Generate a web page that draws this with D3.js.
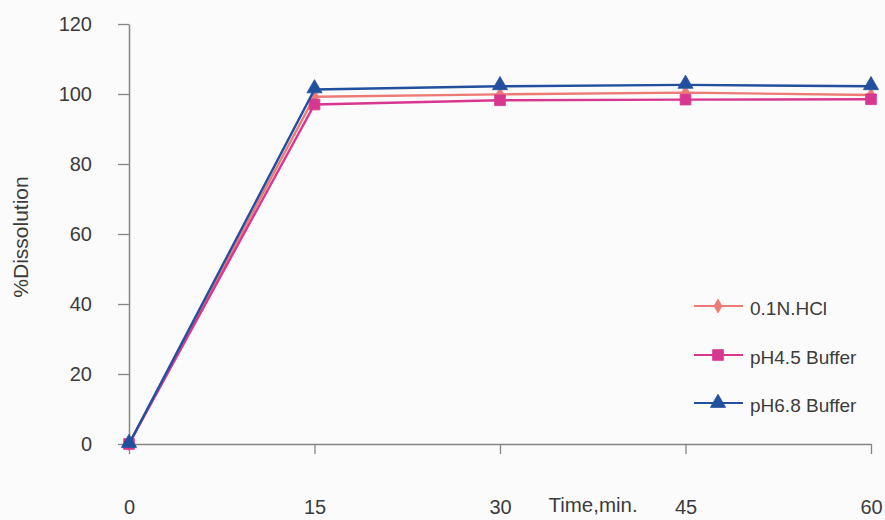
<!DOCTYPE html>
<html>
<head>
<meta charset="utf-8">
<script src="https://cdn.jsdelivr.net/npm/d3@7"></script>
<style>
  html, body { margin: 0; padding: 0; background: #fbfbfc; }
  svg { display: block; }
  text { font-family: "Liberation Sans", Arial, sans-serif; fill: #3c3c3c; }
</style>
</head>
<body>
<svg id="chart" width="885" height="520"></svg>
<script>
// Sampling times (minutes) and tick values
const times = [0, 15, 30, 45, 60];
const xTicks = [0, 15, 30, 45, 60];
const yTicks = [0, 20, 40, 60, 80, 100, 120];

// % dissolved per medium
const hcl   = [0, 99.2, 99.9, 100.4, 99.7];
const ph45  = [0, 97.0, 98.2, 98.4, 98.5];
const ph68  = [0, 101.3, 102.2, 102.6, 102.2];

const seriesNames = ["0.1N.HCl", "pH4.5 Buffer", "pH6.8 Buffer"];
const seriesValues = [hcl, ph45, ph68];
const seriesColors = ["#ee7a76", "#d8378f", "#22509e"];
const seriesShapes = ["diamond", "square", "triangle"];

const svg = d3.select("#chart");
const x = d3.scaleLinear().domain([0, 60]).range([129, 871]);
const y = d3.scaleLinear().domain([0, 120]).range([444, 24]);

// Axes
const axisColor = "#858585";
const yAxis = svg.append("g").attr("transform", "translate(129,0)")
  .call(d3.axisLeft(y).tickValues(yTicks).tickSize(11).tickPadding(26).tickSizeOuter(0));
yAxis.select(".domain").attr("stroke", axisColor).attr("stroke-width", 1.5);
yAxis.selectAll(".tick line").attr("stroke", axisColor).attr("stroke-width", 1.3);
yAxis.selectAll(".tick text").attr("font-size", 20).attr("font-family", null).attr("fill", null);

const xAxis = svg.append("g").attr("transform", "translate(0,444)")
  .call(d3.axisBottom(x).tickValues(xTicks).tickSize(10).tickPadding(0).tickSizeOuter(0));
xAxis.select(".domain").attr("stroke", axisColor).attr("stroke-width", 1.5);
xAxis.selectAll(".tick line").attr("stroke", axisColor).attr("stroke-width", 1.3);
xAxis.selectAll(".tick text").attr("font-size", 20).attr("font-family", null).attr("fill", null)
  .attr("dy", null).attr("y", 70);

// Axis titles
svg.append("text").attr("x", 593).attr("y", 512).attr("text-anchor", "middle")
  .attr("font-size", 20.5).text("Time,min.");
svg.append("text").attr("transform", "translate(28,237) rotate(-90)").attr("text-anchor", "middle")
  .attr("font-size", 21).text("%Dissolution");

// Marker symbols
const symbolFor = {
  diamond: d3.symbol().type(d3.symbolDiamond).size(55),
  square: d3.symbol().type(d3.symbolSquare).size(115),
  triangle: d3.symbol().type(d3.symbolTriangle).size(100)
};

const line = d3.line().x((d, i) => x(times[i])).y(d => y(d));

seriesValues.forEach((vals, s) => {
  const g = svg.append("g");
  g.append("path").datum(vals).attr("d", line)
    .attr("fill", "none").attr("stroke", seriesColors[s]).attr("stroke-width", 2.4);
  g.selectAll("path.m").data(vals).join("path").attr("class", "m")
    .attr("transform", (d, i) => `translate(${x(times[i])},${y(d) + (seriesShapes[s] === "triangle" ? -1 : 0)})`)
    .attr("d", symbolFor[seriesShapes[s]])
    .attr("fill", seriesColors[s]).attr("stroke", seriesColors[s]).attr("stroke-width", 0.8);
});

// Legend
const legendY = [306, 355, 403];
const leg = svg.append("g");
seriesNames.forEach((name, s) => {
  const row = leg.append("g").attr("transform", `translate(694,${legendY[s]})`);
  row.append("line").attr("x1", 0).attr("x2", 49).attr("y1", 0).attr("y2", 0)
    .attr("stroke", seriesColors[s]).attr("stroke-width", 2.2);
  row.append("path").attr("transform", "translate(24,0)").attr("d", symbolFor[seriesShapes[s]])
    .attr("fill", seriesColors[s]).attr("stroke", seriesColors[s]).attr("stroke-width", 0.8);
  row.append("text").attr("x", 56).attr("y", 9).attr("font-size", 19).text(name);
});
</script>
</body>
</html>
